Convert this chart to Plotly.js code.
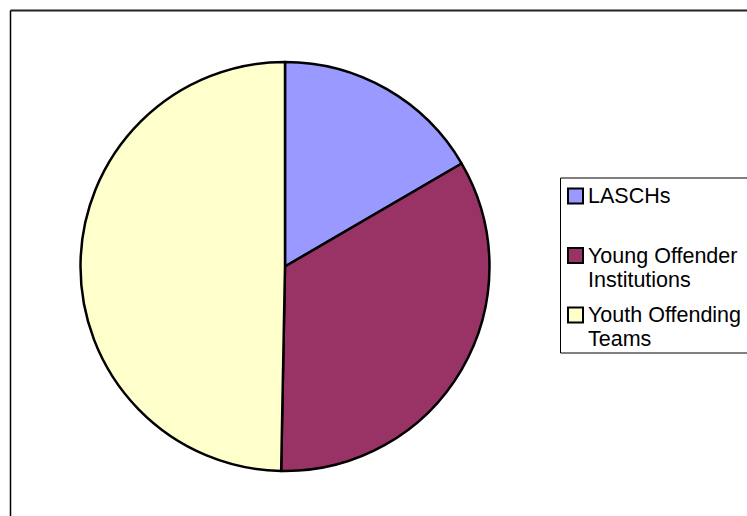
<!DOCTYPE html>
<html>
<head>
<meta charset="utf-8">
<script src="https://cdn.plot.ly/plotly-3.0.1.min.js"></script>
<style>html,body{margin:0;padding:0;background:#fff;}#chart{width:747px;height:516px;}</style>
</head>
<body>
<div id="chart"></div>
<script>
const labels = ["LASCHs", "Young Offender<br>Institutions", "Youth Offending<br>Teams"];
const values = [16.6, 33.7, 49.7];
const colors = ["#9999FF", "#993366", "#FFFFCC"];

const W = 747, H = 516;
const cx = 285, cy = 266.5, r = 204.5;
const FONT = "Liberation Sans, Arial, sans-serif";

const data = [{
  type: "pie",
  labels: labels,
  values: values,
  sort: false,
  direction: "clockwise",
  rotation: 0,
  textinfo: "none",
  hoverinfo: "label+percent",
  marker: {colors: colors, line: {color: "#000000", width: 2.5}},
  domain: {x: [(cx - r) / W, (cx + r) / W], y: [(H - cy - r) / H, (H - cy + r) / H]},
  showlegend: false
}];

// custom legend built from labels / colors
const px = v => v / W;
const py = v => (H - v) / H;
const shapes = [
  {type: "line", xref: "paper", yref: "paper", x0: px(10.5), x1: 1, y0: py(10.5), y1: py(10.5), line: {color: "#222222", width: 2}},
  {type: "line", xref: "paper", yref: "paper", x0: px(10.5), x1: px(10.5), y0: 0, y1: py(10.5), line: {color: "#000000", width: 1.5}},
  {type: "rect", xref: "paper", yref: "paper", x0: px(560.5), x1: px(770), y0: py(178), y1: py(353), line: {color: "#000000", width: 1}, fillcolor: "#ffffff", layer: "below"}
];
const annotations = [];
const firstCenter = 196, itemStep = 59.5, lineStep = 24, fontSize = 21.5;
labels.forEach((lab, i) => {
  const c = firstCenter + itemStep * i;
  shapes.push({type: "rect", xref: "paper", yref: "paper",
    x0: px(568), x1: px(583), y0: py(c - 7.5), y1: py(c + 7.5),
    fillcolor: colors[i], line: {color: "#000000", width: 2}});
  lab.split("<br>").forEach((line, j) => {
    annotations.push({xref: "paper", yref: "paper", x: px(585.5), y: py(c + lineStep * j),
      xanchor: "left", yanchor: "middle", showarrow: false, text: line,
      font: {family: FONT, size: fontSize, color: "#000000"}});
  });
});

const layout = {
  width: W, height: H,
  margin: {l: 0, r: 0, t: 0, b: 0, autoexpand: false},
  paper_bgcolor: "#ffffff",
  font: {family: FONT, color: "#000000"},
  showlegend: false,
  shapes: shapes,
  annotations: annotations
};

Plotly.newPlot("chart", data, layout, {displayModeBar: false});
</script>
</body>
</html>
